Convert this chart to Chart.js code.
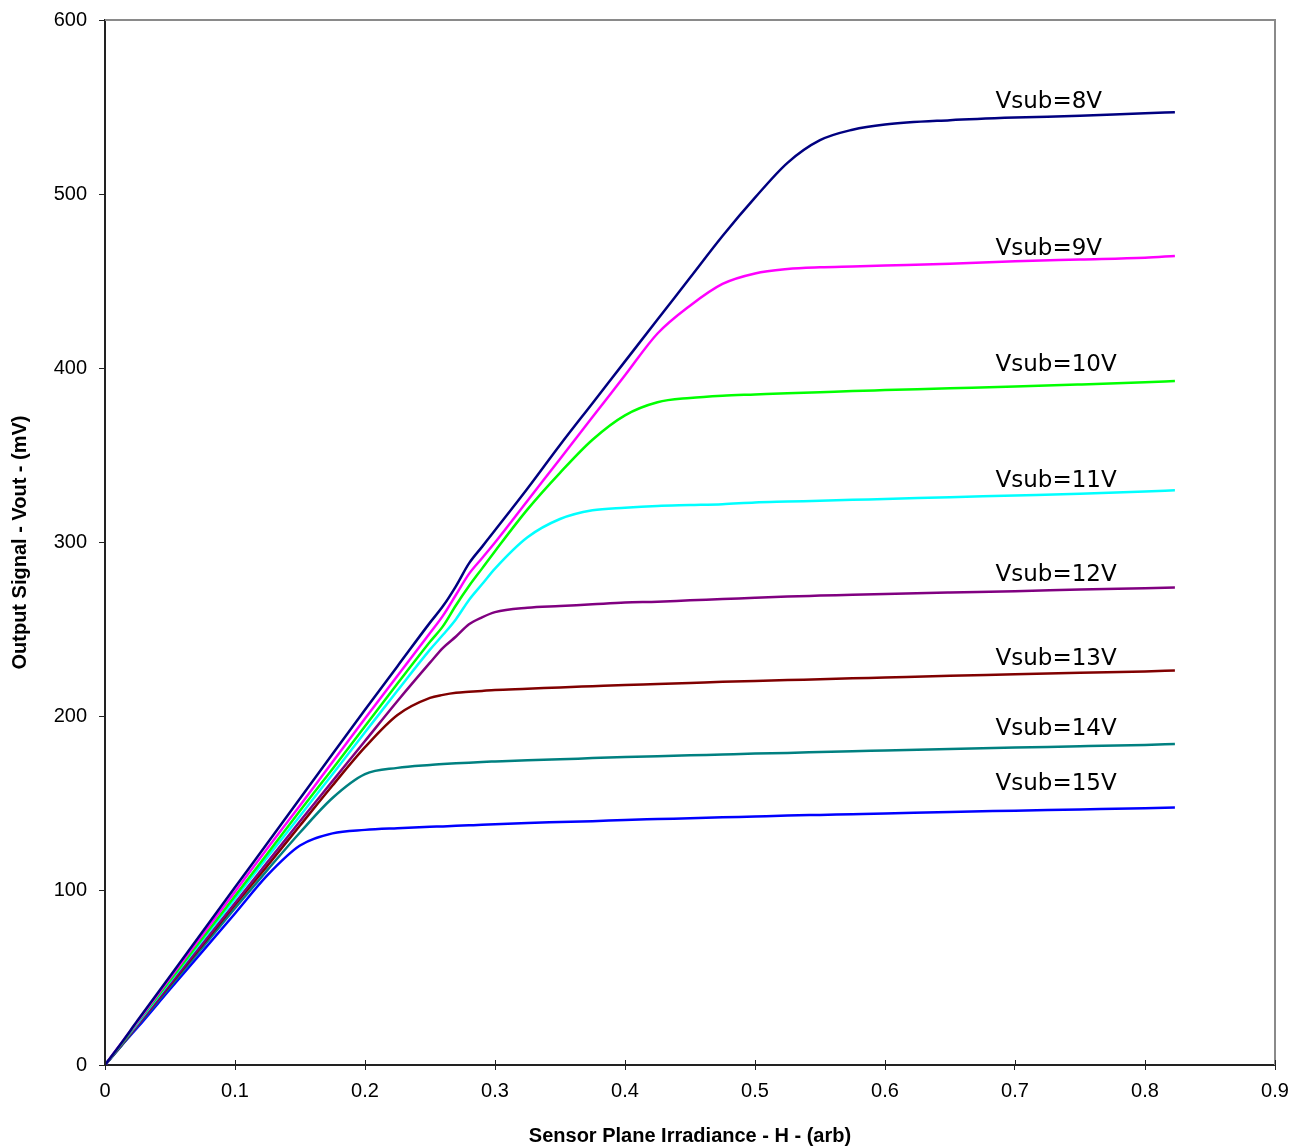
<!DOCTYPE html>
<html>
<head>
<meta charset="utf-8">
<script src="https://cdn.jsdelivr.net/npm/chart.js@4.4.1/dist/chart.umd.min.js"></script>
<style>
  html, body { margin: 0; padding: 0; background: #fff; }
  #wrap { width: 1294px; height: 1148px; }
</style>
</head>
<body>
<div id="wrap"><canvas id="myChart" width="1294" height="1148"></canvas></div>
<script>
// irradiance samples (x axis)
const irradiance = [0, 0.0125, 0.025, 0.05, 0.1, 0.125, 0.15, 0.175, 0.2, 0.225, 0.25, 0.26, 0.27, 0.28, 0.29, 0.3,
    0.325, 0.35, 0.375, 0.4, 0.425, 0.45, 0.475, 0.5, 0.525, 0.55, 0.575, 0.6, 0.65, 0.7, 0.75, 0.8, 0.823];

// output signal in mV, one array per substrate voltage
const vsub8 = [0, 12.5, 25.5, 51, 102, 127.5, 153, 178.5, 204, 229, 254, 263.5, 275, 288, 297.5, 307,
    331, 356, 380, 404, 428, 452, 476, 498, 518, 531, 537, 540, 542.5, 544, 545, 546.5, 547];
const vsub9 = [0, 12.5, 25, 50, 99.5, 124.5, 149, 174, 199, 223.5, 248, 258, 270, 282, 291, 300,
    324, 348, 372, 396, 420, 436, 448.5, 454.5, 457, 458, 458.5, 459, 460, 461.5, 462.5, 463.5, 464.5];
const vsub10 = [0, 12, 24.5, 48.5, 97, 121.5, 146, 170, 194.5, 219, 243, 252, 264, 275, 285, 295,
    319, 340, 359, 373, 380.5, 383, 384.3, 385, 385.7, 386.3, 387, 387.5, 388.5, 389.5, 390.7, 392, 392.7];
const vsub11 = [0, 12, 24, 48, 95.5, 119.5, 143, 167, 191, 215, 238.5, 247, 256, 267, 276, 285,
    303, 313.5, 318.5, 320, 321, 321.5, 322, 323, 323.5, 324, 324.5, 325, 326, 327, 328, 329.3, 330];
const vsub12 = [0, 11.5, 23, 46.5, 93, 116.5, 140, 163, 186, 209, 231, 239.5, 246, 253, 257, 260,
    262.5, 263.5, 264.5, 265.5, 266, 266.8, 267.5, 268.3, 269, 269.5, 270, 270.5, 271.3, 272, 273, 273.8, 274.2];
const vsub13 = [0, 11.5, 23, 46, 92, 114.5, 137.5, 160.5, 182.5, 201, 210.8, 212.5, 213.7, 214.3, 214.8, 215.3,
    216, 216.8, 217.5, 218.2, 218.7, 219.3, 220, 220.5, 221, 221.5, 222, 222.5, 223.5, 224.3, 225.2, 226, 226.5];
const vsub14 = [0, 11, 22.5, 45, 90, 112, 133.5, 153.3, 167, 170.6, 172.3, 172.8, 173.2, 173.6, 174, 174.3,
    175, 175.5, 176.2, 176.8, 177.3, 177.8, 178.3, 178.8, 179.2, 179.7, 180.2, 180.6, 181.5, 182.3, 183, 183.8, 184.3];
const vsub15 = [0, 11, 21.5, 43.5, 87, 109, 126, 133, 135, 136, 136.8, 137, 137.3, 137.6, 137.9, 138.3,
    139, 139.5, 140, 140.7, 141.2, 141.7, 142.2, 142.7, 143.2, 143.6, 144, 144.4, 145.3, 146, 146.7, 147.4, 147.8];

const seriesNames = ['Vsub=8V', 'Vsub=9V', 'Vsub=10V', 'Vsub=11V', 'Vsub=12V', 'Vsub=13V', 'Vsub=14V', 'Vsub=15V'];
const seriesValues = [vsub8, vsub9, vsub10, vsub11, vsub12, vsub13, vsub14, vsub15];
const seriesColors = ['#000080', '#ff00ff', '#00ff00', '#00ffff', '#800080', '#800000', '#008080', '#0000ff'];

// where the curve labels sit (data coords)
const labelX = 0.685;
const labelY = [549.5, 465, 398.5, 332, 278, 229.7, 189.5, 158];

const datasets = seriesValues.map((vals, i) => ({
    label: seriesNames[i],
    data: vals.map((v, j) => ({ x: irradiance[j], y: v })),
    borderColor: seriesColors[i],
    backgroundColor: seriesColors[i],
    borderWidth: 2.5,
    pointRadius: 0,
    fill: false,
    cubicInterpolationMode: 'monotone'
}));

// labels next to curves + gray top/right frame + inner x ticks
const extras = {
    id: 'extras',
    afterDatasetsDraw(chart) {
        const { ctx, chartArea, scales } = chart;
        ctx.save();
        ctx.strokeStyle = '#8a8a8a';
        ctx.lineWidth = 2;
        ctx.beginPath();
        ctx.moveTo(chartArea.left, chartArea.top);
        ctx.lineTo(chartArea.right, chartArea.top);
        ctx.lineTo(chartArea.right, chartArea.bottom);
        ctx.stroke();

        ctx.strokeStyle = '#222';
        ctx.lineWidth = 1;
        scales.x.ticks.forEach(t => {
            const px = Math.round(scales.x.getPixelForValue(t.value)) + 0.5;
            ctx.beginPath();
            ctx.moveTo(px, chartArea.bottom);
            ctx.lineTo(px, chartArea.bottom - 5);
            ctx.stroke();
        });

        ctx.fillStyle = '#000';
        ctx.font = '23px "DejaVu Sans"';
        ctx.textAlign = 'left';
        ctx.textBaseline = 'alphabetic';
        seriesNames.forEach((name, i) => {
            ctx.fillText(name, scales.x.getPixelForValue(labelX), scales.y.getPixelForValue(labelY[i]));
        });
        ctx.restore();
    }
};

const config = {
    type: 'line',
    data: { datasets: datasets },
    options: {
        responsive: false,
        animation: false,
        layout: { padding: { top: 20, right: 19, left: 0, bottom: 0 } },
        plugins: {
            legend: { display: false },
            tooltip: { enabled: false }
        },
        scales: {
            x: {
                type: 'linear',
                min: 0,
                max: 0.9,
                afterFit: (s) => { s.height = 83; s.paddingLeft = 0; s.paddingRight = 0; },
                border: { color: '#222', width: 2 },
                grid: { drawOnChartArea: false, tickLength: 5, color: '#222' },
                ticks: {
                    stepSize: 0.1,
                    color: '#000',
                    padding: 9,
                    maxRotation: 0,
                    font: { family: 'Liberation Sans', size: 20 },
                    callback: (v) => Number(v.toFixed(1)).toString()
                },
                title: {
                    display: true,
                    text: 'Sensor Plane Irradiance - H - (arb)',
                    color: '#000',
                    padding: { top: 0, bottom: 0 },
                    font: { family: 'Liberation Sans', size: 20, weight: 'bold' }
                }
            },
            y: {
                min: 0,
                max: 600,
                afterFit: (s) => { s.width = 105; s.paddingTop = 0; s.paddingBottom = 0; },
                border: { color: '#222', width: 2 },
                grid: { drawOnChartArea: false, tickLength: 6, color: '#222' },
                ticks: {
                    stepSize: 100,
                    color: '#000',
                    padding: 12,
                    font: { family: 'Liberation Sans', size: 20 }
                },
                title: {
                    display: true,
                    text: 'Output Signal - Vout - (mV)',
                    color: '#000',
                    padding: { top: 8, bottom: 0 },
                    font: { family: 'Liberation Sans', size: 20, weight: 'bold' }
                }
            }
        }
    },
    plugins: [extras]
};

var ctx = document.getElementById('myChart').getContext('2d');
var myChart = new Chart(ctx, config);
</script>
</body>
</html>
